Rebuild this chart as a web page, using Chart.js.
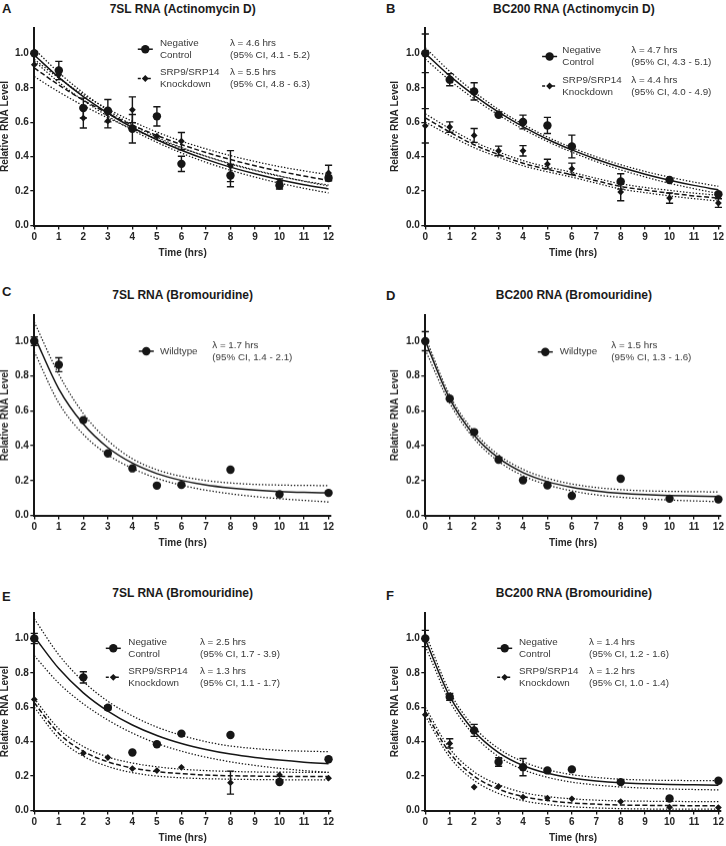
<!DOCTYPE html>
<html>
<head>
<meta charset="utf-8">
<script src="https://cdn.jsdelivr.net/npm/chart.js@4.4.1/dist/chart.umd.min.js"></script>
<style>
  html, body { margin: 0; padding: 0; background: #fff; }
  body { width: 726px; height: 846px; position: relative; overflow: hidden; font-family: "Liberation Sans", Arial, sans-serif; }
  canvas { position: absolute; }
  .letter { position: absolute; font-weight: bold; font-size: 13px; line-height: 13px; color: #1a1a1a; }
  .title { position: absolute; width: 300px; text-align: center; font-weight: bold; font-size: 12px; line-height: 12px; color: #1a1a1a; white-space: nowrap; }
</style>
</head>
<body>
<script>
// ---- data ----
const timeFull = [0, 1, 2, 3, 4, 5, 6, 8, 10, 12];
const timeE = [0, 2, 3, 4, 5, 6, 8, 10, 12];
const fitTime = [0, 1, 2, 3, 4, 5, 6, 7, 8, 9, 10, 11, 12];
const xTicks = [0, 1, 2, 3, 4, 5, 6, 7, 8, 9, 10, 11, 12];
const yTicks = [0, 0.2, 0.4, 0.6, 0.8, 1.0];

const titles = ['7SL RNA (Actinomycin D)', 'BC200 RNA (Actinomycin D)', '7SL RNA (Bromouridine)',
  'BC200 RNA (Bromouridine)', '7SL RNA (Bromouridine)', 'BC200 RNA (Bromouridine)'];
const legendNc = ['Negative', 'Control'];
const legendKd = ['SRP9/SRP14', 'Knockdown'];
const legendWt = ['Wildtype'];

// A - 7SL, actinomycin D
const ncA = [1.0, 0.90, 0.682, 0.667, 0.562, 0.634, 0.358, 0.29, 0.232, 0.276];
const ncErrA = [0, 0.053, 0.058, 0.065, 0.083, 0.056, 0.044, 0.065, 0.02, 0.015];
const kdA = [0.934, 0.875, 0.624, 0.607, 0.672, 0.519, 0.49, 0.345, 0.256, 0.305];
const kdErrA = [0, 0, 0.058, 0.04, 0.075, 0, 0.05, 0.09, 0.015, 0.045];
const fitNcA = [0.99, 0.86, 0.748, 0.652, 0.569, 0.498, 0.437, 0.384, 0.339, 0.30, 0.266, 0.237, 0.212];
const hiNcA = [1.025, 0.888, 0.770, 0.669, 0.584, 0.513, 0.453, 0.401, 0.357, 0.319, 0.286, 0.258, 0.235];
const loNcA = [0.955, 0.832, 0.726, 0.635, 0.554, 0.483, 0.421, 0.367, 0.321, 0.281, 0.246, 0.216, 0.189];
const fitKdA = [0.915, 0.816, 0.728, 0.651, 0.583, 0.523, 0.470, 0.424, 0.383, 0.347, 0.315, 0.287, 0.262];
const hiKdA = [0.965, 0.856, 0.760, 0.677, 0.605, 0.543, 0.490, 0.445, 0.406, 0.372, 0.342, 0.317, 0.295];
const loKdA = [0.865, 0.776, 0.696, 0.625, 0.561, 0.503, 0.450, 0.403, 0.360, 0.322, 0.288, 0.257, 0.229];
const lambdaA = [['λ = 4.6 hrs', '(95% CI, 4.1 - 5.2)'], ['λ = 5.5 hrs', '(95% CI, 4.8 - 6.3)']];

// B - BC200, actinomycin D
const ncB = [1.0, 0.847, 0.779, 0.643, 0.601, 0.581, 0.459, 0.256, 0.264, 0.182];
const ncErrB = [0.112, 0.035, 0.05, 0, 0.04, 0.047, 0.066, 0.045, 0, 0];
const kdB = [0.579, 0.572, 0.523, 0.434, 0.434, 0.357, 0.329, 0.194, 0.159, 0.13];
const kdErrB = [0.1, 0.03, 0.04, 0.027, 0.03, 0.028, 0.033, 0.05, 0.03, 0.025];
const fitNcB = [1.0, 0.869, 0.756, 0.658, 0.574, 0.501, 0.439, 0.385, 0.338, 0.298, 0.263, 0.233, 0.207];
const hiNcB = [1.033, 0.895, 0.776, 0.674, 0.588, 0.514, 0.452, 0.399, 0.353, 0.314, 0.281, 0.252, 0.228];
const loNcB = [0.967, 0.843, 0.736, 0.642, 0.560, 0.488, 0.426, 0.371, 0.323, 0.282, 0.245, 0.214, 0.186];
const fitKdB = [0.625, 0.543, 0.469, 0.412, 0.362, 0.326, 0.295, 0.26, 0.227, 0.206, 0.188, 0.172, 0.159];
const hiKdB = [0.649, 0.563, 0.486, 0.427, 0.377, 0.340, 0.309, 0.274, 0.242, 0.221, 0.204, 0.188, 0.176];
const loKdB = [0.601, 0.523, 0.452, 0.397, 0.347, 0.312, 0.281, 0.246, 0.212, 0.191, 0.172, 0.156, 0.142];
const lambdaB = [['λ = 4.7 hrs', '(95% CI, 4.3 - 5.1)'], ['λ = 4.4 hrs', '(95% CI, 4.0 - 4.9)']];

// C - 7SL, bromouridine
const wtC = [1.0, 0.865, 0.547, 0.356, 0.27, 0.171, 0.175, 0.262, 0.121, 0.129];
const wtErrC = [0.025, 0.04, 0, 0, 0, 0, 0, 0, 0, 0];
const fitC = [1.03, 0.726, 0.524, 0.389, 0.300, 0.240, 0.201, 0.174, 0.157, 0.145, 0.137, 0.132, 0.129];
const hiC = [1.11, 0.81, 0.585, 0.43, 0.325, 0.262, 0.224, 0.20, 0.186, 0.178, 0.174, 0.172, 0.171];
const loC = [0.94, 0.645, 0.465, 0.348, 0.27, 0.213, 0.173, 0.145, 0.124, 0.108, 0.096, 0.086, 0.077];
const lambdaC = [['λ = 1.7 hrs', '(95% CI, 1.4 - 2.1)']];

// D - BC200, bromouridine
const wtD = [1.0, 0.67, 0.478, 0.32, 0.202, 0.173, 0.112, 0.21, 0.096, 0.092];
const wtErrD = [0.055, 0, 0, 0, 0, 0, 0, 0, 0, 0];
const fitD = [1.0, 0.669, 0.460, 0.329, 0.246, 0.194, 0.161, 0.140, 0.127, 0.119, 0.114, 0.111, 0.108];
const hiD = [1.025, 0.69, 0.48, 0.347, 0.264, 0.213, 0.18, 0.16, 0.148, 0.141, 0.138, 0.136, 0.135];
const loD = [0.95, 0.645, 0.44, 0.31, 0.228, 0.175, 0.141, 0.118, 0.104, 0.095, 0.088, 0.083, 0.079];
const lambdaD = [['λ = 1.5 hrs', '(95% CI, 1.3 - 1.6)']];

// E - 7SL, bromouridine, knockdown
const ncE = [1.0, 0.774, 0.598, 0.337, 0.385, 0.447, 0.439, 0.166, 0.298];
const ncErrE = [0.03, 0.033, 0.012, 0, 0, 0, 0, 0, 0];
const kdE = [0.646, 0.333, 0.308, 0.244, 0.232, 0.251, 0.162, 0.207, 0.188];
const kdErrE = [0, 0, 0, 0, 0, 0, 0.067, 0, 0];
const fitNcE = [1.01, 0.825, 0.684, 0.578, 0.497, 0.436, 0.390, 0.355, 0.328, 0.308, 0.293, 0.281, 0.272];
const hiNcE = [1.115, 0.905, 0.75, 0.635, 0.55, 0.485, 0.437, 0.40, 0.375, 0.36, 0.35, 0.345, 0.342];
const loNcE = [0.90, 0.74, 0.62, 0.526, 0.45, 0.39, 0.345, 0.31, 0.283, 0.262, 0.245, 0.232, 0.222];
const fitKdE = [0.626, 0.448, 0.344, 0.283, 0.247, 0.226, 0.214, 0.206, 0.202, 0.200, 0.198, 0.197, 0.197];
const hiKdE = [0.65, 0.475, 0.372, 0.311, 0.276, 0.254, 0.24, 0.232, 0.227, 0.224, 0.223, 0.222, 0.222];
const loKdE = [0.60, 0.42, 0.316, 0.256, 0.22, 0.2, 0.19, 0.185, 0.182, 0.18, 0.179, 0.178, 0.178];
const lambdaE = [['λ = 2.5 hrs', '(95% CI, 1.7 - 3.9)'], ['λ = 1.3 hrs', '(95% CI, 1.1 - 1.7)']];

// F - BC200, bromouridine, knockdown
const ncF = [1.0, 0.66, 0.466, 0.282, 0.252, 0.233, 0.239, 0.165, 0.07, 0.173];
const ncErrF = [0.047, 0.02, 0.035, 0.025, 0.05, 0, 0, 0, 0, 0];
const kdF = [0.557, 0.39, 0.136, 0.14, 0.078, 0.072, 0.068, 0.052, 0.019, 0.017];
const kdErrF = [0, 0.027, 0, 0, 0, 0, 0, 0, 0, 0];
const fitNcF = [0.995, 0.663, 0.461, 0.337, 0.262, 0.216, 0.189, 0.172, 0.161, 0.155, 0.151, 0.149, 0.147];
const hiNcF = [1.03, 0.69, 0.485, 0.36, 0.284, 0.237, 0.209, 0.192, 0.182, 0.177, 0.175, 0.174, 0.173];
const loNcF = [0.955, 0.635, 0.437, 0.313, 0.238, 0.193, 0.165, 0.148, 0.137, 0.13, 0.125, 0.122, 0.12];
const fitKdF = [0.575, 0.335, 0.200, 0.124, 0.081, 0.058, 0.044, 0.037, 0.032, 0.030, 0.029, 0.028, 0.028];
const hiKdF = [0.60, 0.36, 0.225, 0.15, 0.105, 0.081, 0.068, 0.06, 0.056, 0.054, 0.053, 0.052, 0.052];
const loKdF = [0.55, 0.31, 0.175, 0.099, 0.057, 0.035, 0.022, 0.015, 0.011, 0.009, 0.008, 0.008, 0.008];
const lambdaF = [['λ = 1.4 hrs', '(95% CI, 1.2 - 1.6)'], ['λ = 1.2 hrs', '(95% CI, 1.0 - 1.4)']];

// ---- styling / layout ----
const INK = '#161616';
const TEXT = '#383838';
const FONT = '"Liberation Sans", Arial, sans-serif';
const SOLID = [];
const DASHED = [5, 2.5];
const DOTTED = [1.4, 1.8];

const cols = [{ x: 0, w: 345, l: 34.3, r: 331 }, { x: 390, w: 336, l: 425.3, r: 722.4 }];
const rows = [
  { y: 20, t: 27.3, b: 225.7, titleTop: 3, letterTop: [1.5, 1.5] },
  { y: 305, t: 315, b: 515.3, titleTop: 289, letterTop: [285, 288.5] },
  { y: 600, t: 612.7, b: 810.7, titleTop: 587.3, letterTop: [589.5, 588.5] }
];

const circle = 'circle', diamond = 'rectRot';

const panels = [
  { letter: 'A', col: 0, row: 0, groups: [
      { x: timeFull, y: ncA, err: ncErrA, fit: fitNcA, hi: hiNcA, lo: loNcA, marker: circle, dash: SOLID },
      { x: timeFull, y: kdA, err: kdErrA, fit: fitKdA, hi: hiKdA, lo: loKdA, marker: diamond, dash: DASHED }],
    legend: { markerX: 111, textX: 125.7, lambdaX: 195.7,
      entries: [{ y: 21.7, label: legendNc, lambda: lambdaA[0] }, { y: 51, label: legendKd, lambda: lambdaA[1] }] } },
  { letter: 'B', col: 1, row: 0, groups: [
      { x: timeFull, y: ncB, err: ncErrB, fit: fitNcB, hi: hiNcB, lo: loNcB, marker: circle, dash: SOLID },
      { x: timeFull, y: kdB, err: kdErrB, fit: fitKdB, hi: hiKdB, lo: loKdB, marker: diamond, dash: DASHED }],
    legend: { markerX: 124.3, textX: 137, lambdaX: 206,
      entries: [{ y: 29, label: legendNc, lambda: lambdaB[0] }, { y: 58.5, label: legendKd, lambda: lambdaB[1] }] } },
  { letter: 'C', col: 0, row: 1, groups: [
      { x: timeFull, y: wtC, err: wtErrC, fit: fitC, hi: hiC, lo: loC, marker: circle, dash: SOLID }],
    legend: { markerX: 112, textX: 125.7, lambdaX: 178,
      entries: [{ y: 36, label: legendWt, lambda: lambdaC[0] }] } },
  { letter: 'D', col: 1, row: 1, groups: [
      { x: timeFull, y: wtD, err: wtErrD, fit: fitD, hi: hiD, lo: loD, marker: circle, dash: SOLID }],
    legend: { markerX: 120, textX: 134.4, lambdaX: 186,
      entries: [{ y: 36.7, label: legendWt, lambda: lambdaD[0] }] } },
  { letter: 'E', col: 0, row: 2, groups: [
      { x: timeE, y: ncE, err: ncErrE, fit: fitNcE, hi: hiNcE, lo: loNcE, marker: circle, dash: SOLID },
      { x: timeE, y: kdE, err: kdErrE, fit: fitKdE, hi: hiKdE, lo: loKdE, marker: diamond, dash: DASHED }],
    legend: { markerX: 79, textX: 94, lambdaX: 165.7,
      entries: [{ y: 35.6, label: legendNc, lambda: lambdaE[0] }, { y: 64.6, label: legendKd, lambda: lambdaE[1] }] } },
  { letter: 'F', col: 1, row: 2, groups: [
      { x: timeFull, y: ncF, err: ncErrF, fit: fitNcF, hi: hiNcF, lo: loNcF, marker: circle, dash: SOLID },
      { x: timeFull, y: kdF, err: kdErrF, fit: fitKdF, hi: hiKdF, lo: loKdF, marker: diamond, dash: DASHED }],
    legend: { markerX: 79.4, textX: 93.7, lambdaX: 163.7,
      entries: [{ y: 35.6, label: legendNc, lambda: lambdaF[0] }, { y: 64.6, label: legendKd, lambda: lambdaF[1] }] } }
];

// error bars drawn from each dataset's errors array
const errorBars = {
  id: 'errorBars',
  afterDatasetsDraw(chart) {
    const { ctx, scales: { x, y } } = chart;
    ctx.save();
    ctx.strokeStyle = INK;
    ctx.lineWidth = 1.4;
    chart.data.datasets.forEach(ds => {
      if (!ds.errors) return;
      ds.data.forEach((pt, j) => {
        const e = ds.errors[j];
        if (!e) return;
        const px = x.getPixelForValue(pt.x);
        const top = y.getPixelForValue(pt.y + e);
        const bot = y.getPixelForValue(pt.y - e);
        ctx.beginPath();
        ctx.moveTo(px, top); ctx.lineTo(px, bot);
        ctx.moveTo(px - 3.6, top); ctx.lineTo(px + 3.6, top);
        ctx.moveTo(px - 3.6, bot); ctx.lineTo(px + 3.6, bot);
        ctx.stroke();
      });
    });
    ctx.restore();
  }
};

// in-plot legend like the original (symbol, label, half-life text)
const panelLegend = {
  id: 'panelLegend',
  afterDraw(chart, args, opts) {
    const { ctx, chartArea: { left, top } } = chart;
    ctx.save();
    opts.entries.forEach((en, i) => {
      const g = opts.groups[i];
      const mx = left + opts.markerX, my = top + en.y;
      ctx.strokeStyle = INK;
      ctx.lineWidth = 1.5;
      ctx.setLineDash(g.dash.length ? [3, 2] : []);
      ctx.beginPath();
      ctx.moveTo(mx - 7.5, my); ctx.lineTo(mx + 7.5, my);
      ctx.stroke();
      ctx.setLineDash([]);
      ctx.fillStyle = INK;
      ctx.beginPath();
      if (g.marker === circle) {
        ctx.arc(mx, my, 4.2, 0, Math.PI * 2);
      } else {
        ctx.moveTo(mx, my - 3.4); ctx.lineTo(mx + 3.4, my); ctx.lineTo(mx, my + 3.4); ctx.lineTo(mx - 3.4, my);
        ctx.closePath();
      }
      ctx.fill();

      ctx.fillStyle = TEXT;
      ctx.font = '9.8px ' + FONT;
      ctx.textAlign = 'left';
      ctx.textBaseline = 'middle';
      if (en.label.length === 1) {
        ctx.fillText(en.label[0], left + opts.textX, my);
      } else {
        ctx.fillText(en.label[0], left + opts.textX, my - 6);
        ctx.fillText(en.label[1], left + opts.textX, my + 6);
      }
      ctx.fillText(en.lambda[0], left + opts.lambdaX, my - 6);
      ctx.fillText(en.lambda[1], left + opts.lambdaX, my + 6);
    });
    ctx.restore();
  }
};

function toPoints(xs, ys) {
  return xs.map((t, i) => ({ x: t, y: ys[i] }));
}

function addLabel(cls, text, left, top) {
  const d = document.createElement('div');
  d.className = cls;
  d.textContent = text;
  d.style.left = left + 'px';
  d.style.top = top + 'px';
  document.body.appendChild(d);
}

panels.forEach((p, idx) => {
  const c = cols[p.col], r = rows[p.row];
  const box = { x: c.x, y: r.y, w: c.w, h: r.b + 32.5 - r.y };

  addLabel('letter', p.letter, p.col === 0 ? 2 : 386, r.letterTop[p.col]);
  addLabel('title', titles[idx], (c.l + c.r) / 2 - 150, r.titleTop);

  const cv = document.createElement('canvas');
  cv.width = box.w; cv.height = box.h;
  cv.style.left = box.x + 'px'; cv.style.top = box.y + 'px';
  cv.style.width = box.w + 'px'; cv.style.height = box.h + 'px';
  document.body.appendChild(cv);

  const datasets = [];
  p.groups.forEach(g => {
    datasets.push({
      data: toPoints(g.x, g.y), errors: g.err, showLine: false,
      pointStyle: g.marker, pointRadius: g.marker === circle ? 4.2 : 3.4,
      pointBackgroundColor: INK, pointBorderWidth: 0, pointHoverRadius: 0,
      clip: false, order: 0
    });
    datasets.push({
      data: toPoints(fitTime, g.fit), borderColor: INK, borderWidth: 1.5, borderDash: g.dash,
      pointRadius: 0, cubicInterpolationMode: 'monotone', fill: false, clip: false, order: 1
    });
    [g.hi, g.lo].forEach(band => datasets.push({
      data: toPoints(fitTime, band), borderColor: INK, borderWidth: 1.25, borderDash: DOTTED,
      pointRadius: 0, cubicInterpolationMode: 'monotone', fill: false, clip: false, order: 2
    }));
  });

  const axisFont = { family: FONT, size: 10, weight: 'bold' };
  const titleFont = { family: FONT, size: 10, weight: 'bold', lineHeight: 1 };

  new Chart(cv, {
    type: 'line',
    data: { datasets },
    options: {
      responsive: false,
      animation: false,
      devicePixelRatio: 1,
      events: [],
      layout: { padding: { left: 0, top: r.t - box.y, right: box.x + box.w - c.r, bottom: 0 } },
      plugins: {
        legend: { display: false },
        tooltip: { enabled: false },
        panelLegend: { ...p.legend, groups: p.groups }
      },
      scales: {
        x: {
          type: 'linear', min: 0, max: 12.1,
          afterBuildTicks: axis => { axis.ticks = xTicks.map(v => ({ value: v })); },
          afterFit: axis => { axis.height = 32.5; },
          ticks: { font: axisFont, color: '#262626', padding: 2, maxRotation: 0, autoSkip: false },
          grid: { display: true, drawOnChartArea: false, drawTicks: true, tickLength: 4, color: INK, lineWidth: 1.3 },
          border: { display: true, color: INK, width: 2 },
          title: { display: true, text: 'Time (hrs)', font: titleFont, color: '#262626', padding: 0 }
        },
        y: {
          type: 'linear', min: 0, max: 1.15,
          afterBuildTicks: axis => { axis.ticks = yTicks.map(v => ({ value: v })); },
          afterFit: axis => { axis.width = c.l - box.x; },
          ticks: { font: axisFont, color: '#262626', padding: 1.5, callback: v => v.toFixed(1) },
          grid: { display: true, drawOnChartArea: false, drawTicks: true, tickLength: 4, color: INK, lineWidth: 1.3 },
          border: { display: true, color: INK, width: 2 },
          title: { display: true, text: 'Relative RNA Level', font: titleFont, color: '#262626', padding: 0 }
        }
      }
    },
    plugins: [errorBars, panelLegend]
  });
});
</script>
</body>
</html>
